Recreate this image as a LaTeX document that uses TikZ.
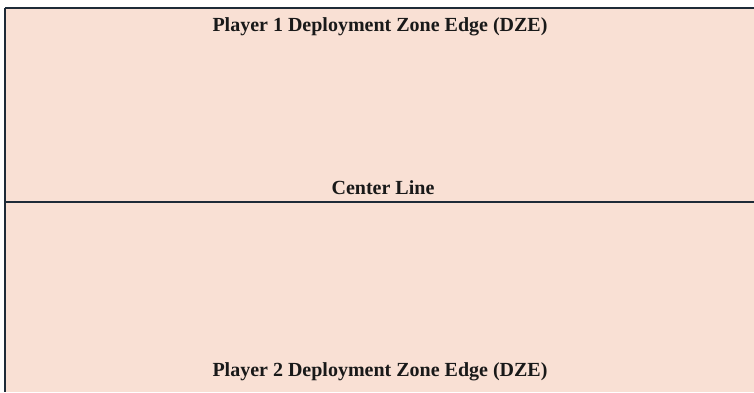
\documentclass[tikz,border=0pt]{standalone}
\usepackage{fontspec}
\setmainfont{Liberation Serif}
\definecolor{zonefill}{HTML}{F9E0D4}
\definecolor{edgeline}{HTML}{1E2B38}
\begin{document}
\begin{tikzpicture}[x=1pt,y=1pt,
  lbl/.style={font=\bfseries\fontsize{20}{22}\selectfont, text=black!90, inner sep=0pt, anchor=center}]
\useasboundingbox (0,0) rectangle (754,392);
\fill[white] (0,0) rectangle (754,392);
\fill[zonefill] (5,0) rectangle (754,384);
\coordinate (tl) at (5,384);
\coordinate (tr) at (754,384);
\coordinate (bl) at (5,0);
\coordinate (cl) at (5,190);
\coordinate (cr) at (754,190);
\draw[edgeline, line width=1.8pt] (tl) -- (tr);
\draw[edgeline, line width=1.8pt] (cl) -- (cr);
\draw[edgeline, line width=1.3pt] (tl) -- (bl);
\node[lbl] (p1) at (380,365) {Player 1 Deployment Zone Edge (DZE)};
\node[lbl] (cline) at (383,204) {Center Line};
\node[lbl] (p2) at (380,20) {Player 2 Deployment Zone Edge (DZE)};
\end{tikzpicture}
\end{document}
